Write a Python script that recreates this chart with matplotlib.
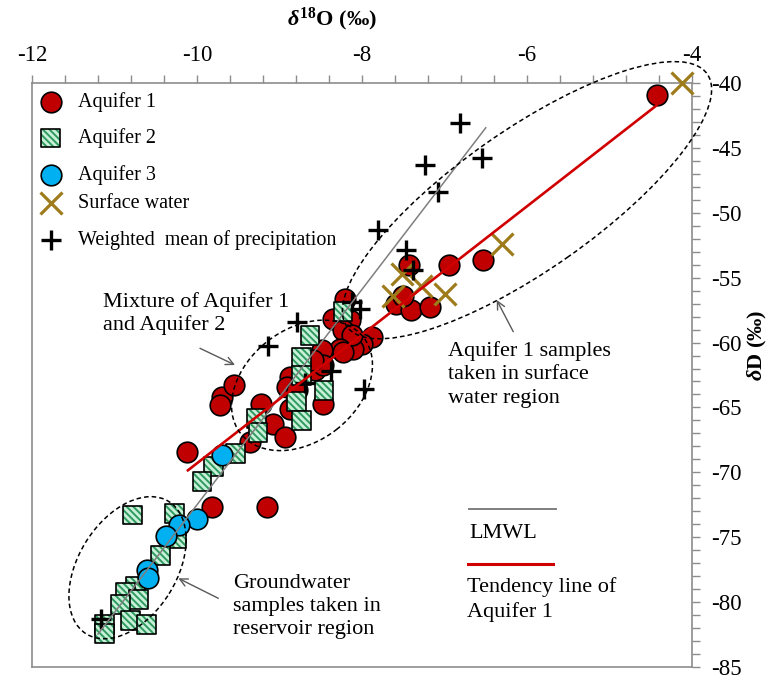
import matplotlib
matplotlib.use("Agg")
import matplotlib.pyplot as plt
import numpy as np
from matplotlib.patches import Ellipse
from matplotlib.transforms import Affine2D
from matplotlib.ticker import MultipleLocator
from matplotlib.lines import Line2D

plt.rcParams['font.family'] = ['Liberation Serif', 'DejaVu Serif']
plt.rcParams['axes.unicode_minus'] = False
plt.rcParams['mathtext.fontset'] = 'custom'
plt.rcParams['mathtext.rm'] = 'Liberation Serif:bold'
plt.rcParams['mathtext.it'] = 'Liberation Serif:italic:bold'
plt.rcParams['mathtext.bf'] = 'Liberation Serif:bold'
plt.rcParams['hatch.color'] = '#2e9a5e'
plt.rcParams['hatch.linewidth'] = 1.4

# ---- isotope data (δ18O, δD in ‰) ----
aq1_d18o = [-4.43, -7.43, -6.95, -6.53, -7.59, -7.41, -7.18, -7.50, -7.88, -8.00,
            -8.11, -8.21, -8.35, -8.15, -8.23, -8.12, -8.27, -8.49, -8.57, -8.47,
            -8.87, -8.91, -8.79, -8.87, -8.47, -9.22, -9.08, -8.93, -9.36, -9.70,
            -9.72, -9.55, -10.12, -9.82, -9.15, -8.59, -8.23]
aq1_dD = [-40.93, -53.99, -54.00, -53.62, -57.05, -57.48, -57.25, -56.40, -59.58, -60.09,
          -60.53, -56.61, -58.16, -58.29, -59.06, -59.44, -60.47, -60.60, -62.14, -61.76,
          -62.66, -63.43, -63.69, -65.10, -64.71, -64.71, -66.26, -67.29, -67.68, -64.21,
          -64.85, -63.30, -68.47, -72.64, -72.64, -61.37, -60.73]

aq2_d18o = [-8.23, -8.63, -8.73, -8.73, -8.46, -8.79, -8.73, -9.28, -9.26, -9.53,
            -9.80, -9.94, -10.78, -10.27, -10.25, -10.44, -10.75, -10.87, -10.71, -10.93,
            -10.81, -10.61, -11.12, -11.12]
aq2_dD = [-57.59, -59.44, -61.18, -62.53, -63.69, -64.54, -66.00, -65.85, -66.90, -68.57,
          -69.55, -70.71, -73.29, -73.14, -75.11, -76.42, -78.81, -79.24, -79.81, -80.15,
          -81.44, -81.74, -81.74, -82.44]

aq3_d18o = [-9.70, -10.00, -10.22, -10.37, -10.61, -10.59]
aq3_dD = [-68.70, -73.59, -74.03, -74.88, -77.50, -78.12]

sw_d18o = [-4.12, -6.30, -7.52, -7.63, -7.29, -6.99]
sw_dD = [-40.00, -52.42, -54.70, -56.44, -55.66, -56.28]

pr_d18o = [-6.81, -6.55, -7.24, -7.08, -7.81, -7.47, -7.38, -8.12, -8.02, -8.79,
           -9.14, -8.37, -8.69, -7.98, -11.16]
pr_dD = [-43.06, -45.81, -46.33, -48.39, -51.34, -52.90, -54.40, -56.90, -57.40, -58.42,
         -60.30, -62.20, -63.10, -63.60, -81.30]

# local meteoric water line and Aquifer 1 trend
lmwl_slope, lmwl_intercept = 8.3, 10.5
lmwl_range = [-11.2, -6.5]
trend_slope, trend_intercept = 4.95, -19.8
trend_range = [-10.11, -4.43]

xlim = (-12, -4)
ylim = (-85, -40)

# ---- figure ----
W, H, DPI = 7.78, 6.82, 100
fig = plt.figure(figsize=(W, H), dpi=DPI)
L, B, AW, AH = 32 / 778, 1 - 667 / 682, 660 / 778, 584 / 682
ax = fig.add_axes([L, B, AW, AH])
ax.set_xlim(*xlim)
ax.set_ylim(*ylim)

spine_col = '#8c8c8c'
for s in ax.spines.values():
    s.set_color(spine_col)
    s.set_linewidth(1.2)

ax.xaxis.tick_top()
ax.yaxis.tick_right()
ax.xaxis.set_major_locator(MultipleLocator(2))
ax.xaxis.set_minor_locator(MultipleLocator(0.4))
ax.yaxis.set_major_locator(MultipleLocator(5))
ax.yaxis.set_minor_locator(MultipleLocator(1))
ax.tick_params(which='both', direction='out', length=5.5, width=1.0, color=spine_col,
               labelsize=16.5, labelcolor='black')
ax.tick_params(axis='x', which='both', pad=7)
ax.tick_params(axis='y', which='both', pad=8)

# markers
red = '#c00000'
sq_face = '#c9f1da'
sq_hatch = '\\\\\\\\\\'
ax.scatter(aq1_d18o, aq1_dD, s=220, marker='o', facecolor=red, edgecolors='black',
           linewidths=1.2, zorder=3)

sq_s = 185
for i, (xv, yv) in enumerate(zip(aq2_d18o, aq2_dD)):
    z = 4 + i * 0.01
    ax.scatter([xv], [yv], s=sq_s, marker='s', facecolor=sq_face, edgecolors='face',
               linewidths=0, hatch=sq_hatch, zorder=z)
    ax.scatter([xv], [yv], s=sq_s, marker='s', facecolor='none', edgecolors='black',
               linewidths=1.2, zorder=z + 0.005)

ax.scatter(aq3_d18o, aq3_dD, s=220, marker='o', facecolor='#00b0f0', edgecolors='black',
           linewidths=1.2, zorder=5)
ax.scatter(sw_d18o, sw_dD, s=250, marker='x', color='#9e7c1c', linewidths=2.3, zorder=6,
           clip_on=False)
ax.scatter(pr_d18o, pr_dD, s=200, marker='+', color='black', linewidths=2.4, zorder=7)

# lines
xl = np.array(lmwl_range)
ax.plot(xl, lmwl_slope * xl + lmwl_intercept, color='#7f7f7f', lw=1.1, zorder=8)
xt = np.array(trend_range)
ax.plot(xt, trend_slope * xt + trend_intercept, color='#d00000', lw=1.9, zorder=8)

# dashed ellipses (sizes in pixels, centred on data coordinates)
kx = W * DPI * AW / (xlim[1] - xlim[0])
ky = H * DPI * AH / (ylim[1] - ylim[0])


def group_ellipse(cx, cy, a, b, angle):
    tr = Affine2D().scale(1 / kx, 1 / ky).translate(cx, cy) + ax.transData
    e = Ellipse((0, 0), 2 * a, 2 * b, angle=angle, transform=tr, fill=False,
                edgecolor='black', lw=1.1, ls=(0, (3, 2)), zorder=9, clip_on=False)
    ax.add_patch(e)


group_ellipse(-6.0, -49.03, 220, 70, 35)
group_ellipse(-8.727, -63.30, 78, 56, 38)
group_ellipse(-10.842, -77.35, 78, 49, 58)

# annotations
arrow_kw = dict(arrowstyle='->', color='#595959', lw=1.0, shrinkA=0, shrinkB=0,
                mutation_scale=14)
ax.annotate('', xy=(0.3076, 0.5171), xytext=(0.2545, 0.5457), xycoords='axes fraction',
            arrowprops=arrow_kw, zorder=10)
ax.annotate('', xy=(0.7041, 0.6284), xytext=(0.7292, 0.5741), xycoords='axes fraction',
            arrowprops=arrow_kw, zorder=10)
ax.annotate('', xy=(0.2217, 0.1519), xytext=(0.2823, 0.1176), xycoords='axes fraction',
            arrowprops=arrow_kw, zorder=10)

txt_kw = dict(transform=ax.transAxes, fontsize=16, ha='left', va='center', color='black',
              zorder=10)
ax.text(0.1076, 0.6053, 'Mixture of Aquifer 1\nand Aquifer 2', linespacing=1.2, **txt_kw)
ax.text(0.630, 0.5009, 'Aquifer 1 samples\ntaken in surface\nwater region',
        linespacing=1.32, **txt_kw)
ax.text(0.3045, 0.1036, 'Groundwater\nsamples taken in\nreservoir region',
        linespacing=1.28, **txt_kw)

# line key
ax.add_line(Line2D([0.6621, 0.7939], [0.2711, 0.2711], transform=ax.transAxes,
                   color='#7f7f7f', lw=1.4))
ax.text(0.6621, 0.2283, 'LMWL', **txt_kw)
ax.add_line(Line2D([0.6601, 0.7899], [0.1769, 0.1769], transform=ax.transAxes,
                   color='#d00000', lw=2.2))
ax.text(0.6591, 0.1156, 'Tendency line of\nAquifer 1', linespacing=1.3, **txt_kw)

# marker key
key_x, key_tx = 0.0283, 0.0697
rows = [0.968, 0.9058, 0.8425, 0.7945, 0.7312]
ax.scatter([key_x], [rows[0]], s=220, marker='o', facecolor=red, edgecolors='black',
           linewidths=1.2, transform=ax.transAxes, zorder=10)
ax.scatter([key_x], [rows[1]], s=sq_s, marker='s', facecolor=sq_face, edgecolors='face',
           linewidths=0, hatch=sq_hatch, transform=ax.transAxes, zorder=10)
ax.scatter([key_x], [rows[1]], s=sq_s, marker='s', facecolor='none', edgecolors='black',
           linewidths=1.2, transform=ax.transAxes, zorder=10.1)
ax.scatter([key_x], [rows[2]], s=220, marker='o', facecolor='#00b0f0', edgecolors='black',
           linewidths=1.2, transform=ax.transAxes, zorder=10)
ax.scatter([key_x], [rows[3]], s=250, marker='x', color='#9e7c1c', linewidths=2.3,
           transform=ax.transAxes, zorder=10)
ax.scatter([key_x], [rows[4]], s=200, marker='+', color='black', linewidths=2.4,
           transform=ax.transAxes, zorder=10)
labels = ['Aquifer 1', 'Aquifer 2', 'Aquifer 3', 'Surface water',
          'Weighted  mean of precipitation']
for r, lab in zip(rows, labels):
    ax.text(key_tx, r, lab, transform=ax.transAxes, fontsize=14.5, ha='left', va='center',
            zorder=10)

# axis titles
fig.text(332 / 778, 1 - 19 / 682, r'$\delta^{18}$O (‰)', fontsize=16, fontweight='bold',
         ha='center', va='center')
fig.text(757 / 778, 1 - 345 / 682, r'$\delta$D (‰)', fontsize=16, fontweight='bold',
         ha='center', va='center', rotation=90)

fig.savefig('out.png', dpi=DPI)
